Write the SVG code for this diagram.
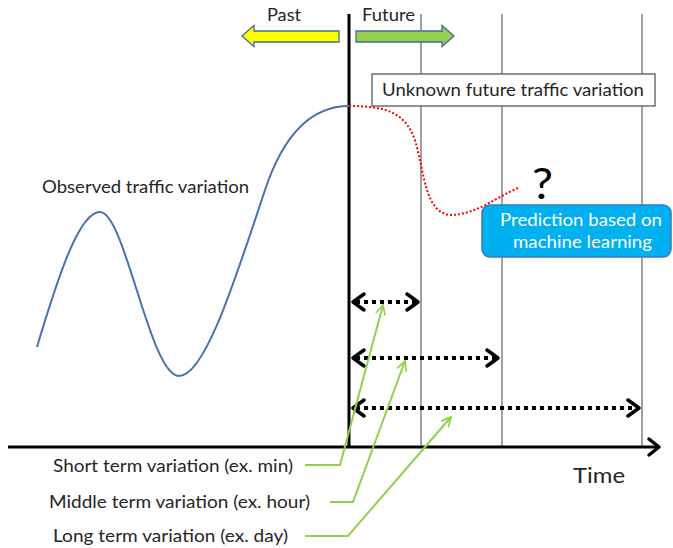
<svg xmlns="http://www.w3.org/2000/svg" width="673" height="548" viewBox="0 0 673 548">
  <style>
    text { font-family: Lato, "Liberation Sans", Arial, sans-serif; fill: #262626; }
    .grid { stroke: #6e6e6e; stroke-width: 1.3; fill: none; }
    .axis { stroke: #000; stroke-width: 3; fill: none; }
    .span { stroke: #000; stroke-width: 4; stroke-dasharray: 4 4; fill: none; }
    .chev { stroke: #000; stroke-width: 3.5; fill: none; stroke-linecap: round; stroke-linejoin: round; }
    .lead { stroke: #8fd14f; stroke-width: 2; fill: none; marker-end: url(#gHead); }
    .lbl { font-size: 18px; }
  </style>
  <defs>
    <marker id="gHead" viewBox="0 0 10 10" refX="9" refY="5" markerWidth="6" markerHeight="6" orient="auto" markerUnits="strokeWidth">
      <path d="M1,1 L9,5 L1,9" fill="none" stroke="#8fd14f" stroke-width="1.4"/>
    </marker>
  </defs>

  <!-- time grid -->
  <g id="grid">
    <line class="grid" x1="421" y1="14" x2="421" y2="447"/>
    <line class="grid" x1="502" y1="14" x2="502" y2="447"/>
    <line class="grid" x1="642" y1="14" x2="642" y2="447"/>
  </g>

  <!-- axes -->
  <g id="axes">
    <line class="axis" x1="8" y1="447" x2="658" y2="447"/>
    <path class="chev" d="M649,439 L659,447 L649,455"/>
    <line class="axis" x1="349" y1="14" x2="349" y2="447"/>
    <text x="573" y="483" font-size="22" textLength="52" lengthAdjust="spacingAndGlyphs">Time</text>
  </g>

  <!-- past / future arrows -->
  <g id="past">
    <polygon points="242,36 254,25.5 254,31 339,31 339,42 254,42 254,46.5" fill="#ffff00" stroke="#4a6a93" stroke-width="1.3"/>
    <text x="267" y="21" class="lbl" textLength="34" lengthAdjust="spacingAndGlyphs">Past</text>
  </g>
  <g id="future">
    <polygon points="356,31 442,31 442,25.5 454,36 442,46.5 442,42 356,42" fill="#92d050" stroke="#4a6a93" stroke-width="1.3"/>
    <text x="362" y="21" class="lbl" textLength="53" lengthAdjust="spacingAndGlyphs">Future</text>
  </g>

  <!-- observed curve -->
  <g id="observed">
    <path d="M37,347 C60,270 80,212 100,212 C125,212 150,376 179,376 C205,376 235,280 265,190 C285,130 315,106 349,106" fill="none" stroke="#4a72a8" stroke-width="2"/>
    <text x="42" y="193" class="lbl" textLength="207" lengthAdjust="spacingAndGlyphs">Observed traffic variation</text>
  </g>

  <!-- predicted curve -->
  <g id="predicted">
    <path d="M349,106 C385,106 405,112 415,140 C425,175 425,212 450,215 C475,215 495,198 520,187" fill="none" stroke="#ff0000" stroke-width="2" stroke-dasharray="2 2"/>
    <text x="532" y="199" font-size="42" style="fill:#000" textLength="21" lengthAdjust="spacingAndGlyphs">?</text>
  </g>

  <!-- unknown future box -->
  <g id="unknown">
    <rect x="372" y="74" width="283" height="32" fill="#fff" stroke="#595959" stroke-width="1.3"/>
    <text x="382" y="96" class="lbl" textLength="262" lengthAdjust="spacingAndGlyphs">Unknown future traffic variation</text>
  </g>

  <!-- prediction box -->
  <g id="prediction">
    <rect x="482" y="205" width="189" height="52" rx="8" fill="#00b0f0" stroke="#2f7fb5" stroke-width="1.5"/>
    <text x="500" y="226" class="lbl" style="fill:#fff" textLength="162" lengthAdjust="spacingAndGlyphs">Prediction based on</text>
    <text x="513" y="248" class="lbl" style="fill:#fff" textLength="139" lengthAdjust="spacingAndGlyphs">machine learning</text>
  </g>

  <!-- horizon spans -->
  <g id="spans">
    <line class="span" x1="356" y1="302" x2="416" y2="302"/>
    <path class="chev" d="M364,294 L353,302 L364,310 M407,294 L418,302 L407,310"/>
    <line class="span" x1="356" y1="358" x2="496" y2="358"/>
    <path class="chev" d="M364,350 L353,358 L364,366 M487,350 L498,358 L487,366"/>
    <line class="span" x1="356" y1="408" x2="637" y2="408"/>
    <path class="chev" d="M364,400 L353,408 L364,416 M628,400 L639,408 L628,416"/>
  </g>

  <!-- legend labels -->
  <g id="labels">
    <text x="53" y="472" class="lbl" textLength="240" lengthAdjust="spacingAndGlyphs">Short term variation (ex. min)</text>
    <text x="49" y="508" class="lbl" textLength="261" lengthAdjust="spacingAndGlyphs">Middle term variation (ex. hour)</text>
    <text x="53" y="542" class="lbl" textLength="235" lengthAdjust="spacingAndGlyphs">Long term variation (ex. day)</text>
  </g>

  <!-- leader connectors -->
  <g id="connectors">
    <polyline class="lead" points="305,465 340,465 383,305"/>
    <polyline class="lead" points="330,502 353,502 405,361"/>
    <polyline class="lead" points="305,536 348,536 451,417"/>
  </g>
</svg>
